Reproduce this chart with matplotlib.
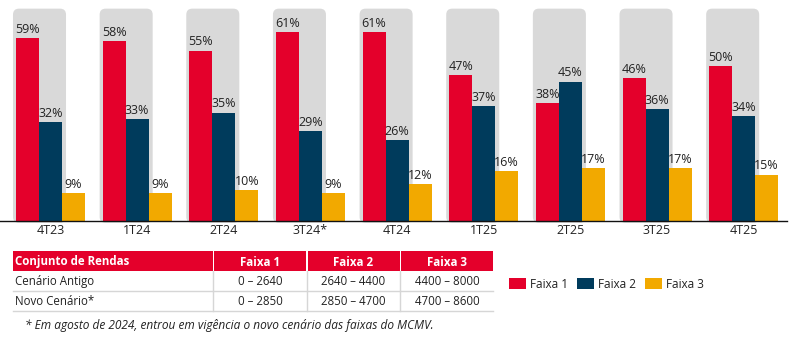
import matplotlib
matplotlib.use("Agg")
import matplotlib.pyplot as plt
from matplotlib.patches import FancyBboxPatch, Rectangle
import numpy as np

plt.rcParams['font.family'] = ['Open Sans', 'DejaVu Sans']

# ---- data ----
quarters = ["4T23", "1T24", "2T24", "3T24*", "4T24", "1T25", "2T25", "3T25", "4T25"]
faixa1 = [59, 58, 55, 61, 61, 47, 38, 46, 50]
faixa2 = [32, 33, 35, 29, 26, 37, 45, 36, 34]
faixa3 = [9, 9, 10, 9, 12, 16, 17, 17, 15]
series_names = ["Faixa 1", "Faixa 2", "Faixa 3"]
background_level = 68.5

table_header = ["Conjunto de Rendas", "Faixa 1", "Faixa 2", "Faixa 3"]
table_rows = [
    ["Cenário Antigo", "0 – 2640", "2640 – 4400", "4400 – 8000"],
    ["Novo Cenário*", "0 – 2850", "2850 – 4700", "4700 – 8600"],
]
footnote = "* Em agosto de 2024, entrou em vigência o novo cenário das faixas do MCMV."

RED = "#E4002B"
NAVY = "#003B5C"
YELLOW = "#F2A900"
GREY = "#D9D9D9"
TEXT = "#222222"
colors = [RED, NAVY, YELLOW]

W, H = 792, 337
fig = plt.figure(figsize=(W / 100, H / 100), dpi=100)

# chart axes (pixel geometry -> figure fractions)
ax_l, ax_r, ax_t, ax_b = 0, 787, 4, 221
ax = fig.add_axes([ax_l / W, 1 - ax_b / H, (ax_r - ax_l) / W, (ax_b - ax_t) / H])

x = np.arange(len(quarters))
bw = 0.2656
ymax = 70
ax.set_xlim(-0.583, 8.5)
ax.set_ylim(0, ymax)

# rounded background panels
px_per_x = (ax_r - ax_l) / (8.5 + 0.583)
px_per_y = (ax_b - ax_t) / ymax
r_px = 6
r_x = r_px / px_per_x
aspect = (r_px / px_per_y) / r_x
for xi in x:
    left = xi - 0.433
    p = FancyBboxPatch((left, -0.6), 0.612, background_level + 0.6,
                       boxstyle=f"round,pad=0,rounding_size={r_x}",
                       mutation_aspect=aspect, facecolor=GREY,
                       edgecolor="none", zorder=1, clip_on=False)
    ax.add_patch(p)

for k, vals in enumerate([faixa1, faixa2, faixa3]):
    bars = ax.bar(x + (k - 1) * bw, vals, width=bw, color=colors[k],
                  zorder=2, label=series_names[k])
    for b, v in zip(bars, vals):
        ax.annotate(f"{v}%", (b.get_x() + b.get_width() / 2, v),
                    xytext=(0, 1.5), textcoords="offset points",
                    ha="center", va="bottom", fontsize=9, color=TEXT, zorder=3)

for s in ["top", "right", "left"]:
    ax.spines[s].set_visible(False)
ax.spines["bottom"].set_color("#111111")
ax.spines["bottom"].set_linewidth(1.0)
ax.spines["bottom"].set_zorder(4)
ax.set_yticks([])
ax.set_xticks(x)
ax.set_xticklabels(quarters, fontsize=9, color=TEXT)
ax.tick_params(axis="x", length=0, pad=2.5)

# ---- table ----
tax = fig.add_axes([0, 0, 1, 1])
tax.set_xlim(0, W)
tax.set_ylim(H, 0)
tax.axis("off")

col_edges = [(13, 212.5), (214, 306), (307.5, 399.5), (401, 493)]
head_top, head_bot = 251, 271
row_h = 20
fs_tab = 8.3
for j, (c0, c1) in enumerate(col_edges):
    tax.add_patch(Rectangle((c0, head_top), c1 - c0, head_bot - head_top,
                            facecolor=RED, edgecolor="none"))
    yc = (head_top + head_bot) / 2 + 1
    if j == 0:
        tax.text(c0 + 2, yc, table_header[j], ha="left", va="center",
                 fontsize=fs_tab, fontweight="bold", color="white")
    else:
        tax.text((c0 + c1) / 2, yc, table_header[j], ha="center", va="center",
                 fontsize=fs_tab, fontweight="bold", color="white")

line_c = "#D6D6D6"
for i, row in enumerate(table_rows):
    top = head_bot + i * row_h
    bot = top + row_h
    yc = (top + bot) / 2 + 0.5
    tax.plot([13, 493], [bot, bot], color=line_c, lw=1.0)
    for xv in [213.2, 306.8, 400.2]:
        tax.plot([xv, xv], [top, bot], color=line_c, lw=1.0)
    for j, cell in enumerate(row):
        c0, c1 = col_edges[j]
        if j == 0:
            tax.text(c0 + 2, yc, cell, ha="left", va="center", fontsize=fs_tab, color=TEXT)
        else:
            tax.text((c0 + c1) / 2, yc, cell, ha="center", va="center",
                     fontsize=fs_tab, color=TEXT)

tax.text(25, 326, footnote, ha="left", va="center", fontsize=8.6,
         style="italic", color=TEXT)

# ---- legend ----
handles, labels = ax.get_legend_handles_labels()
fig.legend(handles, labels, loc="center left",
           bbox_to_anchor=(509 / W, 1 - 284 / H), ncol=3, frameon=False,
           fontsize=8.5, handlelength=1.45, handleheight=1.05,
           handletextpad=0.3, columnspacing=0.8, borderpad=0,
           borderaxespad=0, labelcolor=TEXT)

fig.savefig("out.png", dpi=100)
